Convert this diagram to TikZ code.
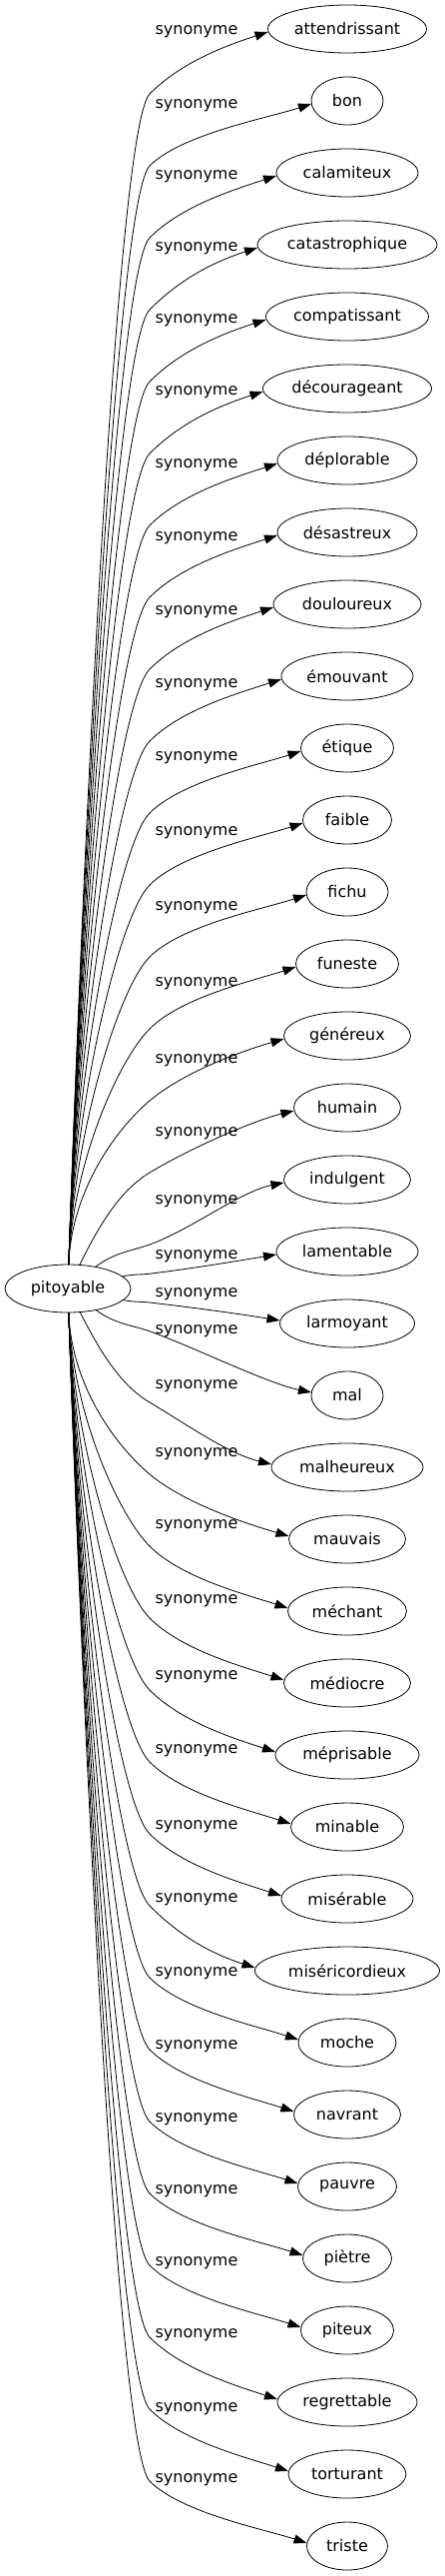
\documentclass[tikz,border=0pt]{standalone}
\usepackage{fontspec}
\setmainfont{DejaVu Sans}
\usetikzlibrary{arrows.meta, shapes.geometric}

\begin{document}
\begin{tikzpicture}[
    x=1pt, y=1pt,
    word/.style={draw, ellipse, line width=0.8pt, inner sep=0pt, minimum height=48pt, font=\fontsize{16}{19}\selectfont},
    rel/.style={font=\fontsize{16}{19}\selectfont},
    syn/.style={-{Triangle[length=13pt, width=9pt]}, line width=0.8pt}
]
\useasboundingbox (0,0) rectangle (446,-2579);

% Source word
\node[word, minimum width=126pt] (pit) at (68,-1290) {pitoyable};

% Synonyms, relation labels and edges (rise from the source, bend, run in)
\foreach \k/\word/\wid/\ly in {
    0/attendrissant/159/32, 1/bon/72/106, 2/calamiteux/142/177, 3/catastrophique/180/249,
    4/compatissant/163/321, 5/décourageant/169/393, 6/déplorable/140/466, 7/désastreux/140/539,
    8/douloureux/148/613, 9/émouvant/132/686, 10/étique/93/759, 11/faible/89/834,
    12/fichu/82/909, 13/funeste/103/985, 14/généreux/127/1062, 15/humain/107/1135,
    16/indulgent/127/1203, 17/lamentable/142/1258, 18/larmoyant/135/1296, 19/mal/72/1333,
    20/malheureux/152/1388, 21/mauvais/117/1456, 22/méchant/119/1528, 23/médiocre/127/1603,
    24/méprisable/144/1679, 25/minable/113/1753, 26/misérable/132/1829, 27/miséricordieux/185/1902,
    28/moche/98/1976, 29/navrant/107/2049, 30/pauvre/99/2122, 31/piètre/89/2194,
    32/piteux/93/2266, 33/regrettable/140/2338, 34/torturant/118/2412, 35/triste/81/2483} {
  \node[word, minimum width=\wid pt] (w\k) at (348,{-29-72*\k}) {\word};
  \node[rel] (r\k) at (197,-\ly) {synonyme};
  \pgfmathsetmacro{\yt}{29+72*\k}
  \pgfmathsetmacro{\ed}{abs(\yt-1290)}
  \pgfmathtruncatemacro{\sg}{\yt<1290 ? 1 : -1}
  \pgfmathsetmacro{\ang}{10+78*min(1,max(0,(\ed-30)/220))}
  \pgfmathsetmacro{\rad}{1512/veclen(24*cos(\ang),63*sin(\ang))}
  \pgfmathsetmacro{\koff}{min(65,0.6*\ed)}
  \pgfmathsetmacro{\chd}{20*veclen((82-\rad*cos(\ang))/20,(\ed-\koff-\rad*sin(\ang))/20)}
  \pgfmathsetmacro{\dout}{0.4*\chd}
  \pgfmathsetmacro{\din}{min(45,0.3*\chd)}
  \pgfmathsetmacro{\thk}{atan(min(1,\ed/300))}
  \pgfmathsetmacro{\tht}{8+10*min(1,\ed/300)}
  \pgfmathsetmacro{\sx}{68+\rad*cos(\ang)}
  \pgfmathsetmacro{\sy}{-1290+(\sg)*\rad*sin(\ang)}
  \pgfmathsetmacro{\ky}{-\yt-(\sg)*\koff}
  \pgfmathsetmacro{\ax}{\sx+\dout*cos(\ang)}
  \pgfmathsetmacro{\ay}{\sy+(\sg)*\dout*sin(\ang)}
  \pgfmathsetmacro{\bx}{150-\din*cos(\thk)}
  \pgfmathsetmacro{\by}{\ky-(\sg)*\din*sin(\thk)}
  \pgfmathsetmacro{\cx}{150+45*cos(\thk)}
  \pgfmathsetmacro{\cy}{\ky+(\sg)*45*sin(\thk)}
  \pgfmathsetmacro{\ex}{348-\wid/2}
  \pgfmathsetmacro{\ey}{-\yt-(\sg)*3}
  \pgfmathsetmacro{\dx}{\ex-45*cos(\tht)}
  \pgfmathsetmacro{\dy}{\ey-(\sg)*45*sin(\tht)}
  \coordinate (s\k) at (\sx,\sy);
  \coordinate (k\k) at (150,\ky);
  \coordinate (e\k) at (\ex,\ey);
  \draw[syn] (s\k) .. controls (\ax,\ay) and (\bx,\by) .. (k\k)
    .. controls (\cx,\cy) and (\dx,\dy) .. (e\k);
}
\end{tikzpicture}
\end{document}
